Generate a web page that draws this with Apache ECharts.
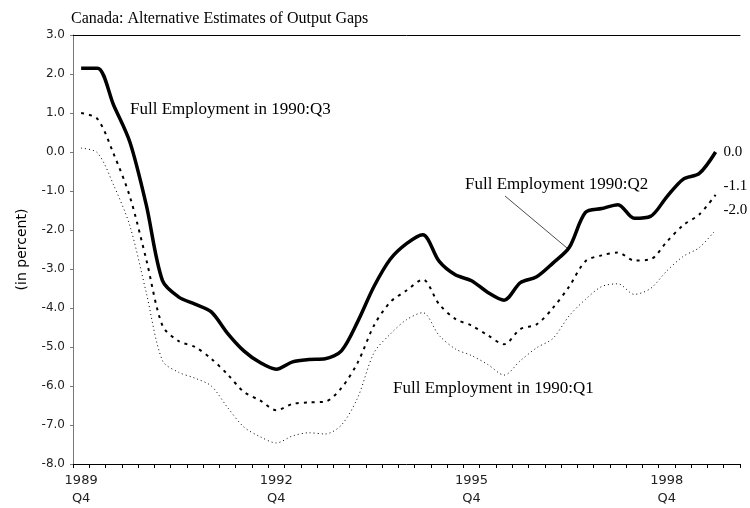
<!DOCTYPE html>
<html>
<head>
<meta charset="utf-8">
<script src="https://cdn.jsdelivr.net/npm/echarts@6/dist/echarts.min.js"></script>
<style>
  html, body { margin: 0; padding: 0; background: #fff; }
  #chart { width: 750px; height: 508px; }
</style>
</head>
<body>
<div id="chart"></div>
<script>
// quarters 1989Q4 .. 1999Q4
var quarters = [];
for (var y = 1989, q = 4; quarters.length < 41; ) {
  quarters.push(y + 'Q' + q);
  q++;
  if (q > 4) { q = 1; y++; }
}

// Full Employment in 1990:Q3
var gapQ3 = [2.15, 2.15, 1.2, 0.25, -1.35, -3.3, -3.72, -3.9, -4.1, -4.65,
  -5.1, -5.4, -5.57, -5.38, -5.32, -5.3, -5.1, -4.35, -3.45, -2.75,
  -2.35, -2.12, -2.8, -3.15, -3.3, -3.6, -3.8, -3.35, -3.2, -2.85,
  -2.45, -1.55, -1.45, -1.35, -1.7, -1.65, -1.15, -0.7, -0.55, 0.0];

// Full Employment 1990:Q2
var gapQ2 = [1.0, 0.85, -0.05, -1.15, -2.75, -4.45, -4.85, -5.0, -5.3, -5.7,
  -6.15, -6.37, -6.62, -6.46, -6.42, -6.4, -6.05, -5.4, -4.45, -3.85,
  -3.55, -3.27, -3.9, -4.28, -4.45, -4.7, -4.93, -4.54, -4.42, -4.0,
  -3.45, -2.8, -2.65, -2.58, -2.78, -2.75, -2.3, -1.88, -1.6, -1.1];

// Full Employment in 1990:Q1
var gapQ1 = [0.1, -0.02, -0.85, -1.9, -3.6, -5.35, -5.65, -5.8, -6.0, -6.55,
  -7.05, -7.3, -7.46, -7.28, -7.2, -7.23, -7.0, -6.3, -5.15, -4.67,
  -4.3, -4.12, -4.7, -5.05, -5.22, -5.45, -5.72, -5.35, -5.02, -4.78,
  -4.2, -3.78, -3.45, -3.38, -3.65, -3.5, -3.05, -2.68, -2.45, -2.0];

var labelIdx = [0, 12, 24, 36];
var serif = '"Liberation Serif", "Times New Roman", serif';
var sans = '"DejaVu Sans", Verdana, sans-serif';

var myChart = echarts.init(document.getElementById('chart'));

function lineSeries(name, data, style, endOffset, endText) {
  return {
    name: name,
    type: 'line',
    data: data,
    smooth: 0.3,
    symbol: 'none',
    lineStyle: style,
    endLabel: {
      show: true,
      formatter: endText,
      offset: endOffset,
      color: '#000',
      fontFamily: serif,
      fontSize: 15
    },
    z: 3
  };
}

myChart.setOption({
  backgroundColor: '#fff',
  animation: false,
  title: {
    text: 'Canada: Alternative Estimates of Output Gaps',
    left: 66,
    top: 6,
    textStyle: { fontFamily: serif, fontSize: 16, fontWeight: 'normal', color: '#000' }
  },
  grid: { left: 73, right: 10, top: 35, bottom: 43 },
  xAxis: [{
    type: 'category',
    data: quarters,
    boundaryGap: true,
    axisLine: { onZero: false, lineStyle: { color: '#000', width: 1 } },
    axisTick: { show: true, interval: 0, length: 4, lineStyle: { color: '#000' } },
    axisLabel: {
      interval: function (i) { return labelIdx.indexOf(i) >= 0; },
      formatter: function (v) { return v.slice(0, 4) + '\n' + v.slice(4); },
      fontFamily: sans,
      fontSize: 13,
      color: '#222',
      lineHeight: 18,
      margin: 8
    }
  }, {
    type: 'category',
    data: quarters,
    position: 'top',
    axisLine: { onZero: false, lineStyle: { color: '#000', width: 1 } },
    axisTick: { show: false },
    axisLabel: { show: false }
  }],
  yAxis: {
    type: 'value',
    min: -8,
    max: 3,
    interval: 1,
    name: '(in percent)',
    nameLocation: 'middle',
    nameGap: 44,
    nameTextStyle: { fontFamily: sans, fontSize: 14, color: '#000' },
    axisLine: { show: true, lineStyle: { color: '#777' } },
    axisTick: { show: true, length: 3, lineStyle: { color: '#777' } },
    splitLine: { show: false },
    axisLabel: {
      formatter: function (v) { return v.toFixed(1); },
      fontFamily: sans,
      fontSize: 12,
      color: '#222',
      margin: 8
    }
  },
  series: [
    lineSeries('Full Employment in 1990:Q3', gapQ3,
      { color: '#000', width: 3.5 }, [0, 0], '0.0'),
    lineSeries('Full Employment 1990:Q2', gapQ2,
      { color: '#000', width: 2, type: [3, 5] }, [0, -9], '-1.1'),
    lineSeries('Full Employment in 1990:Q1', gapQ1,
      { color: '#000', width: 1, type: [1, 3] }, [0, -20], '-2.0')
  ],
  graphic: [
    { type: 'text', left: 130, top: 101,
      style: { text: 'Full Employment in 1990:Q3', font: '17px ' + serif, fill: '#000' } },
    { type: 'text', left: 465, top: 176,
      style: { text: 'Full Employment 1990:Q2', font: '17px ' + serif, fill: '#000' } },
    { type: 'line', shape: { x1: 505, y1: 196, x2: 567, y2: 248 },
      style: { stroke: '#000', lineWidth: 0.7 } },
    { type: 'text', left: 393, top: 380,
      style: { text: 'Full Employment in 1990:Q1', font: '17px ' + serif, fill: '#000' } }
  ]
});
</script>
</body>
</html>
